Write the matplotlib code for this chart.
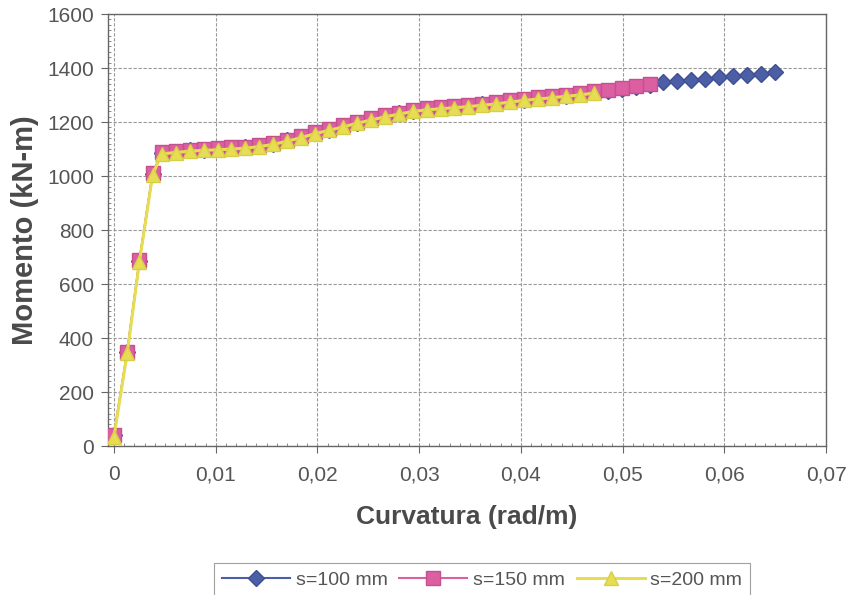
import matplotlib
matplotlib.use("Agg")
import matplotlib.pyplot as plt
from matplotlib.ticker import MultipleLocator, FuncFormatter

# ---- data ----
curv_start = [0.0, 0.0013, 0.0025, 0.0038]
curv_plateau = [0.0047, 0.00607, 0.00744, 0.00881, 0.01018, 0.01155, 0.01292, 0.01429,
                0.01566, 0.01703, 0.0184, 0.01977, 0.02114, 0.02251, 0.02388, 0.02525,
                0.02662, 0.02799, 0.02936, 0.03073, 0.0321, 0.03347, 0.03484, 0.03621,
                0.03758, 0.03895, 0.04032, 0.04169, 0.04306, 0.04443, 0.0458, 0.04717,
                0.04854, 0.04991, 0.05128, 0.05265, 0.05402, 0.05539, 0.05676, 0.05813,
                0.0595, 0.06087, 0.06224, 0.06361, 0.06498]
curv_s100 = curv_start + curv_plateau
curv_s150 = curv_start + curv_plateau[:36]
curv_s200 = curv_start + curv_plateau[:32]

mom_s100 = [40, 348, 685, 1008,
            1085, 1090, 1095, 1098, 1100, 1103, 1106, 1112, 1120, 1132, 1145, 1160,
            1172, 1185, 1198, 1210, 1222, 1232, 1242, 1248, 1252, 1256, 1260, 1265,
            1270, 1277, 1283, 1288, 1293, 1298, 1303, 1310, 1316, 1322, 1328, 1336,
            1348, 1352, 1357, 1361, 1365, 1369, 1373, 1378, 1384]
mom_s150 = [42, 350, 688, 1010,
            1088, 1093, 1098, 1101, 1103, 1106, 1109, 1115, 1123, 1135, 1148, 1163,
            1175, 1188, 1201, 1213, 1225, 1235, 1245, 1251, 1255, 1259, 1263, 1268,
            1273, 1280, 1286, 1291, 1296, 1301, 1306, 1313, 1320, 1326, 1332, 1340]
mom_s200 = [35, 345, 682, 1005,
            1082, 1087, 1092, 1095, 1097, 1100, 1103, 1109, 1117, 1129, 1142, 1157,
            1169, 1182, 1195, 1207, 1219, 1229, 1239, 1245, 1249, 1253, 1257, 1262,
            1267, 1274, 1280, 1285, 1290, 1295, 1300, 1307]

labels = ["s=100 mm", "s=150 mm", "s=200 mm"]
x_ticks = [0, 0.01, 0.02, 0.03, 0.04, 0.05, 0.06, 0.07]
y_ticks = [0, 200, 400, 600, 800, 1000, 1200, 1400, 1600]

plt.rcParams['font.family'] = ['Liberation Sans', 'DejaVu Sans']

W, H = 849, 595
fig = plt.figure(figsize=(W / 100, H / 100), dpi=100)
ax = fig.add_axes([108 / W, 1 - 446 / H, (826 - 108) / W, (446 - 14) / H])

c_blue = '#4b5ea6'
c_pink = '#dc5fa2'
c_yel = '#e6dd52'

ax.plot(curv_s100, mom_s100, color=c_blue, lw=1.5, marker='D', ms=8,
        mfc=c_blue, mec='#3f5092', label=labels[0], zorder=3)
ax.plot(curv_s150, mom_s150, color=c_pink, lw=1.5, marker='s', ms=9.5,
        mfc=c_pink, mec='#c45090', label=labels[1], zorder=4)
ax.plot(curv_s200, mom_s200, color=c_yel, lw=2.2, marker='^', ms=10.5,
        mfc=c_yel, mec='#d8cf48', label=labels[2], zorder=5)

ax.set_xlim(-0.00059, 0.07)
ax.set_ylim(0, 1600)
ax.set_xticks(x_ticks)
ax.set_yticks(y_ticks)
ax.xaxis.set_major_formatter(FuncFormatter(
    lambda v, p: '0' if abs(v) < 1e-12 else ('%.2f' % v).replace('.', ',')))
ax.yaxis.set_minor_locator(MultipleLocator(20))
ax.xaxis.set_minor_locator(MultipleLocator(0.001))
ax.tick_params(axis='both', which='major', labelsize=15, labelcolor='#555555',
               color='#666666', length=5, direction='out')
ax.tick_params(axis='y', which='major', pad=5)
ax.tick_params(axis='x', which='major', pad=9)
ax.tick_params(axis='both', which='minor', length=2.5, color='#777777',
               direction='in')

ax.grid(True, which='major', color='#999999', lw=0.8, ls=(0, (3, 1.5)))
for s in ax.spines.values():
    s.set_color('#666666')
    s.set_linewidth(1.0)

ax.set_xlabel('Curvatura (rad/m)', fontsize=19, fontweight='bold',
              color='#4a4a4a', labelpad=15)
ax.set_ylabel('Momento (kN-m)', fontsize=21, fontweight='bold',
              color='#4a4a4a', labelpad=6)

leg = fig.legend(loc='center', bbox_to_anchor=(482 / W, 1 - 580 / H), ncol=3,
                 fontsize=14, frameon=True, fancybox=False, edgecolor='#888888',
                 handlelength=3.5, columnspacing=0.6, handletextpad=0.3,
                 borderpad=0.4, labelcolor='#555555')
leg.get_frame().set_linewidth(0.8)

fig.savefig('out.png', dpi=100)
